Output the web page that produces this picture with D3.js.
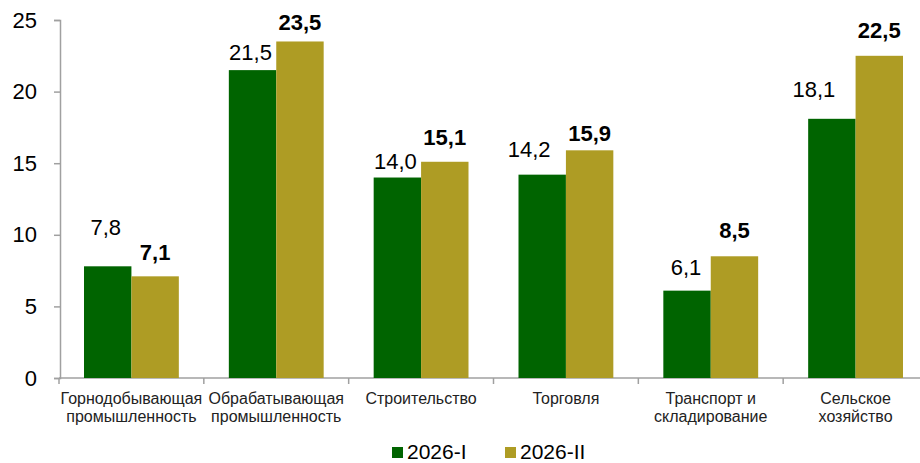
<!DOCTYPE html>
<html>
<head>
<meta charset="utf-8">
<script src="https://cdn.jsdelivr.net/npm/d3@7"></script>
<style>
  body { margin: 0; background: #fff; }
  svg { font-family: "Liberation Sans", Arial, sans-serif; }
</style>
</head>
<body>
<svg class="chart" width="920" height="463"></svg>
<script>
// data
let categories = [
    "Горнодобывающая\nпромышленность",
    "Обрабатывающая\nпромышленность",
    "Строительство",
    "Торговля",
    "Транспорт и\nскладирование",
    "Сельское\nхозяйство"
];
let seriesNames = ["2026-I", "2026-II"];
let valuesI = [7.8, 21.5, 14.0, 14.2, 6.1, 18.1];
let valuesII = [7.1, 23.5, 15.1, 15.9, 8.5, 22.5];
let yTicks = [0, 5, 10, 15, 20, 25];

// manual label nudges (the source chart places its labels by hand)
let labelLiftI = [31, 10, 9, 18, 16, 22];
let labelShiftI = [-2, -2, -2, -13, -1, -18];
let labelLiftII = [16, 11, 17, 9, 18, 18];

let svg = d3.select("svg.chart"),
    margin = {top: 20, left: 59, bottom: 85},
    height = +svg.attr("height");

let colorScale = d3.scaleOrdinal()
    .domain(seriesNames)
    .range(["#006400", "#ae9c24"]);

let xScale = d3.scaleBand()
    .domain(categories)
    .range([margin.left, 928]);

let xInner = d3.scaleBand()
    .domain(seriesNames)
    .range([25, xScale.bandwidth() - 25]);

let yScale = d3.scaleLinear()
    .domain([0, 25])
    .range([height - margin.bottom, margin.top]);

let y0 = yScale(0);

// y axis
let yAxis = svg.append("g")
    .attr("transform", "translate(" + (margin.left + 1) + ",0)")
    .call(d3.axisLeft(yScale).tickValues(yTicks).tickSize(6).tickPadding(17)
        .tickFormat(d => d));
yAxis.select(".domain").attr("stroke", "#a0a0a0").attr("stroke-width", 1.5);
yAxis.selectAll(".tick line").attr("stroke", "#a0a0a0").attr("stroke-width", 1.5);
yAxis.selectAll(".tick text")
    .attr("font-size", "22px")
    .attr("fill", "#000")
    .attr("font-family", "Liberation Sans, Arial, sans-serif");

// x axis
let xAxis = svg.append("g")
    .attr("transform", "translate(0," + y0 + ")");
xAxis.append("line")
    .attr("x1", margin.left).attr("x2", 920)
    .attr("y1", 0).attr("y2", 0)
    .attr("stroke", "#a0a0a0").attr("stroke-width", 1.5);
xAxis.selectAll(".xtick")
    .data(categories)
    .join("line")
    .attr("class", "xtick")
    .attr("x1", d => xScale(d)).attr("x2", d => xScale(d))
    .attr("y1", 0).attr("y2", 6)
    .attr("stroke", "#a0a0a0").attr("stroke-width", 1.5);

let catLabels = svg.append("g").selectAll("text")
    .data(categories)
    .join("text")
    .attr("text-anchor", "middle")
    .attr("font-size", "16px")
    .attr("fill", "#222")
    .attr("x", d => xScale(d) + xScale.bandwidth() / 2)
    .attr("y", y0 + 26);
catLabels.selectAll("tspan")
    .data(d => d.split("\n"))
    .join("tspan")
    .attr("x", function() { return d3.select(this.parentNode).attr("x"); })
    .attr("dy", (d, i) => i === 0 ? 0 : 18)
    .text(d => d);

// bars
let rows = categories.map((c, i) => ({cat: c, i: i, vals: [valuesI[i], valuesII[i]]}));

let groups = svg.append("g").selectAll("g")
    .data(rows)
    .join("g")
    .attr("transform", d => "translate(" + xScale(d.cat) + ",0)");

groups.selectAll("rect")
    .data(d => d.vals.map((v, k) => ({series: seriesNames[k], value: v})))
    .join("rect")
    .attr("x", d => xInner(d.series))
    .attr("width", xInner.bandwidth())
    .attr("y", d => yScale(d.value))
    .attr("height", d => y0 - yScale(d.value))
    .attr("fill", d => colorScale(d.series));

let fmt = v => d3.format(".1f")(v).replace(".", ",");

// value labels
groups.append("text")
    .attr("text-anchor", "middle")
    .attr("font-size", "22px")
    .attr("x", d => xInner(seriesNames[0]) + xInner.bandwidth() / 2 + labelShiftI[d.i])
    .attr("y", d => yScale(d.vals[0]) - labelLiftI[d.i])
    .text(d => fmt(d.vals[0]));

groups.append("text")
    .attr("text-anchor", "middle")
    .attr("font-size", "22px")
    .attr("font-weight", "bold")
    .attr("x", d => xInner(seriesNames[1]) + xInner.bandwidth() / 2)
    .attr("y", d => yScale(d.vals[1]) - labelLiftII[d.i])
    .text(d => fmt(d.vals[1]));

// legend
let legend = svg.append("g")
    .attr("transform", "translate(392,447)");
let legendItems = legend.selectAll("g")
    .data(seriesNames)
    .join("g")
    .attr("transform", (d, i) => "translate(" + (i * 113) + ",0)");
legendItems.append("rect")
    .attr("width", 11).attr("height", 11)
    .attr("fill", d => colorScale(d));
legendItems.append("text")
    .attr("x", 15).attr("y", 12)
    .attr("font-size", "21px")
    .text(d => d);
</script>
</body>
</html>
